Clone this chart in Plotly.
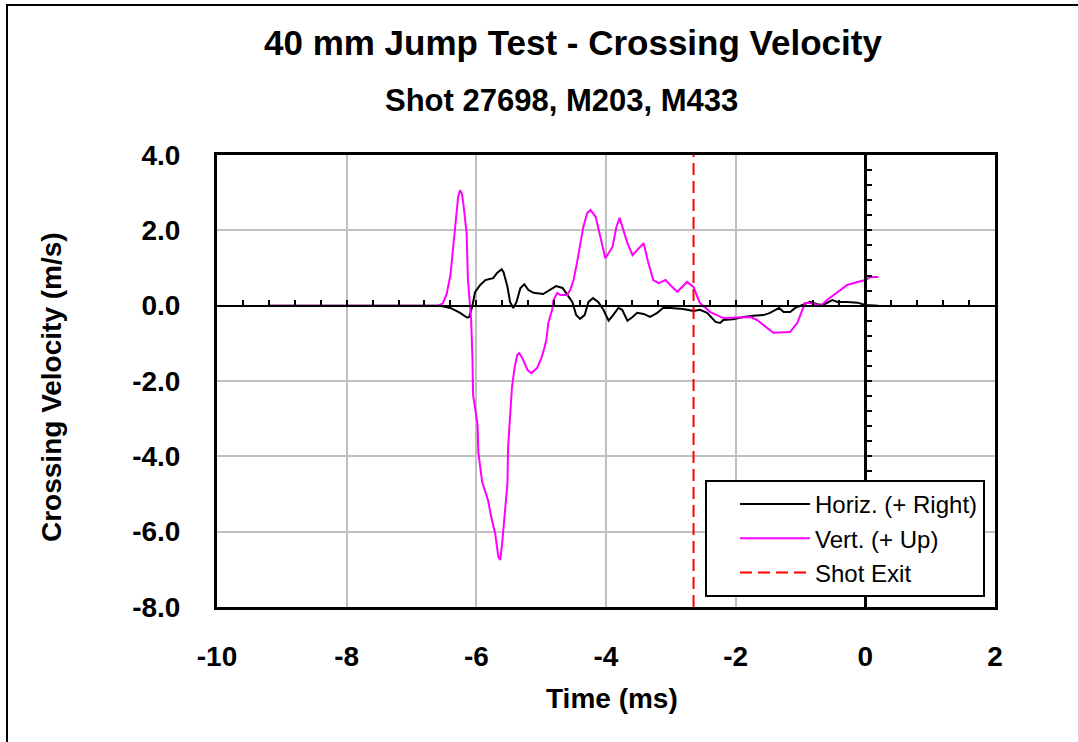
import plotly.graph_objects as go

# ---------------- data ----------------
t_horiz = [-9.21, -6.56, -6.40, -6.25, -6.14, -6.11, -6.06, -6.02, -5.94, -5.86, -5.74, -5.68,
           -5.61, -5.58, -5.52, -5.48, -5.43, -5.38, -5.32, -5.26, -5.20, -5.12, -4.97, -4.86,
           -4.77, -4.67, -4.60, -4.52, -4.46, -4.40, -4.33, -4.27, -4.20, -4.12, -4.04, -3.96,
           -3.89, -3.81, -3.75, -3.67, -3.59, -3.52, -3.42, -3.32, -3.21, -3.12, -3.01, -2.81,
           -2.65, -2.55, -2.44, -2.31, -2.24, -2.19, -2.04, -1.88, -1.73, -1.57, -1.47, -1.37,
           -1.33, -1.26, -1.16, -1.08, -1.00, -0.85, -0.74, -0.65, -0.51, -0.43, -0.28, -0.12,
           0.00, 0.20]
v_horiz = [0.0, 0.0, -0.06, -0.19, -0.32, -0.30, 0.0, 0.36, 0.55, 0.68, 0.73, 0.87,
           0.97, 0.89, 0.50, 0.10, -0.06, 0.10, 0.47, 0.57, 0.42, 0.34, 0.31, 0.42,
           0.52, 0.47, 0.31, 0.10, -0.25, -0.35, -0.25, 0.10, 0.20, 0.10, -0.11, -0.40,
           -0.25, -0.06, -0.11, -0.40, -0.30, -0.19, -0.22, -0.30, -0.19, -0.06, -0.06, -0.09,
           -0.14, -0.11, -0.19, -0.43, -0.46, -0.38, -0.36, -0.30, -0.27, -0.25, -0.19, -0.11,
           -0.06, -0.17, -0.17, -0.06, 0.0, 0.10, 0.04, 0.02, 0.15, 0.10, 0.10, 0.08,
           0.02, 0.0]

t_vert = [-9.21, -6.60, -6.52, -6.46, -6.40, -6.37, -6.34, -6.31, -6.28, -6.25, -6.22, -6.20,
          -6.15, -6.13, -6.10, -6.08, -6.06, -6.05, -5.98, -5.97, -5.91, -5.86, -5.82, -5.77,
          -5.71, -5.66, -5.63, -5.60, -5.57, -5.52, -5.51, -5.48, -5.45, -5.41, -5.37, -5.34,
          -5.29, -5.21, -5.15, -5.06, -4.99, -4.95, -4.92, -4.89, -4.83, -4.81, -4.75, -4.70,
          -4.60, -4.55, -4.50, -4.44, -4.40, -4.35, -4.29, -4.24, -4.16, -4.09, -4.04, -4.01,
          -3.90, -3.84, -3.79, -3.67, -3.59, -3.42, -3.35, -3.27, -3.19, -3.08, -3.01, -2.90,
          -2.75, -2.65, -2.59, -2.55, -2.39, -2.19, -1.77, -1.67, -1.42, -1.16, -1.05, -0.93,
          -0.85, -0.69, -0.59, -0.49, -0.28, -0.12, 0.00, 0.08, 0.20]
v_vert = [0.0, 0.0, 0.05, 0.30, 0.80, 1.30, 1.80, 2.40, 2.90, 3.07, 2.95, 2.70,
          1.93, 0.70, 0.0, -0.38, -1.39, -2.37, -3.17, -3.88, -4.68, -4.94, -5.16, -5.61,
          -6.04, -6.67, -6.75, -6.28, -5.61, -4.71, -3.75, -2.85, -2.16, -1.65, -1.31, -1.26,
          -1.39, -1.71, -1.79, -1.65, -1.36, -1.12, -0.91, -0.46, -0.11, 0.15, 0.34, 0.28,
          0.28, 0.42, 0.68, 1.21, 1.66, 2.09, 2.46, 2.54, 2.36, 1.82, 1.40, 1.26,
          1.56, 2.09, 2.33, 1.66, 1.34, 1.66, 1.16, 0.68, 0.60, 0.68, 0.55, 0.37,
          0.63, 0.50, 0.23, 0.07, -0.17, -0.33, -0.30, -0.38, -0.72, -0.70, -0.46, 0.07,
          0.07, 0.0, 0.15, 0.28, 0.55, 0.63, 0.68, 0.76, 0.76]

shot_exit_t = -2.65
x_range = [-10, 2]
y_range = [-8, 4]
x_tickvals = [-10, -8, -6, -4, -2, 0, 2]
x_ticktext = ["-10", "-8", "-6", "-4", "-2", "0", "2"]
y_tickvals = [4, 2, 0, -2, -4, -6, -8]
y_ticktext = ["4.0", "2.0", "0.0", "-2.0", "-4.0", "-6.0", "-8.0"]

title_text = "40 mm Jump Test - Crossing Velocity"
subtitle_text = "Shot 27698, M203, M433"
x_title = "Time (ms)"
y_title = "Crossing Velocity (m/s)"

# ---------------- layout geometry ----------------
W, H = 1078, 742
L, R, T, B = 217, 83, 155, 135
pw, ph = W - L - R, H - T - B

def px_x(p):
    return (p - L) / pw

def px_y(p):
    return (H - B - p) / ph

FONT = "Liberation Sans, Arial, sans-serif"

fig = go.Figure()
fig.add_trace(go.Scatter(x=t_horiz, y=v_horiz, mode="lines", name="Horiz. (+ Right)",
                         line=dict(color="black", width=2)))
fig.add_trace(go.Scatter(x=t_vert, y=v_vert, mode="lines", name="Vert. (+ Up)",
                         line=dict(color="#ff00ff", width=2)))
fig.add_trace(go.Scatter(x=[shot_exit_t, shot_exit_t], y=y_range, mode="lines", name="Shot Exit",
                         line=dict(color="#ff0000", width=2, dash="12px,6px"),
                         xaxis="x2", yaxis="y2"))

axis_common = dict(showgrid=True, gridcolor="#c0c0c0", gridwidth=2, zeroline=False,
                   showline=True, linecolor="black", linewidth=3, mirror=True,
                   ticks="", tickfont=dict(family=FONT, size=28, color="black", weight="bold"))

fig.update_layout(
    width=W, height=H,
    margin=dict(l=L, r=R, t=T, b=B, autoexpand=False),
    paper_bgcolor="white", plot_bgcolor="white",
    showlegend=True,
    xaxis=dict(range=x_range, tickvals=x_tickvals, ticktext=x_ticktext,
               ticklabelstandoff=22, **axis_common),
    yaxis=dict(range=y_range, tickvals=y_tickvals, ticktext=y_ticktext,
               ticklabelstandoff=28, **axis_common),
    xaxis2=dict(range=x_range, overlaying="x", anchor="free", position=8 / 12, side="bottom",
                showgrid=False, zeroline=False, showticklabels=False,
                showline=True, linecolor="black", linewidth=2,
                ticks="inside", tick0=0, dtick=0.4, ticklen=5, tickwidth=2, tickcolor="black"),
    yaxis2=dict(range=y_range, overlaying="y", anchor="free", position=10 / 12, side="left",
                showgrid=False, zeroline=False, showticklabels=False,
                showline=True, linecolor="black", linewidth=3,
                ticks="inside", tick0=0, dtick=0.4, ticklen=5, tickwidth=2, tickcolor="black"),
    legend=dict(x=px_x(985), y=px_y(597), xanchor="right", yanchor="bottom",
                bgcolor="white", bordercolor="black", borderwidth=2,
                font=dict(family=FONT, size=24, color="black"), itemwidth=70,
                indentation=28, tracegroupgap=0),
    shapes=[dict(type="rect", xref="paper", yref="paper",
                 x0=px_x(7), x1=px_x(1100), y0=px_y(770), y1=px_y(5),
                 line=dict(color="black", width=2), fillcolor="rgba(0,0,0,0)", layer="below")],
    annotations=[
        dict(text=title_text, xref="paper", yref="paper", x=px_x(573), y=px_y(42),
             xanchor="center", yanchor="middle", showarrow=False,
             font=dict(family=FONT, size=35, color="black", weight="bold")),
        dict(text=subtitle_text, xref="paper", yref="paper", x=px_x(561), y=px_y(100),
             xanchor="center", yanchor="middle", showarrow=False,
             font=dict(family=FONT, size=31, color="black", weight="bold")),
        dict(text=x_title, xref="paper", yref="paper", x=px_x(612), y=px_y(698),
             xanchor="center", yanchor="middle", showarrow=False,
             font=dict(family=FONT, size=28, color="black", weight="bold")),
        dict(text=y_title, xref="paper", yref="paper", x=px_x(51), y=px_y(387),
             xanchor="center", yanchor="middle", showarrow=False, textangle=-90,
             font=dict(family=FONT, size=28, color="black", weight="bold")),
    ],
)

fig.write_html("out.html")
